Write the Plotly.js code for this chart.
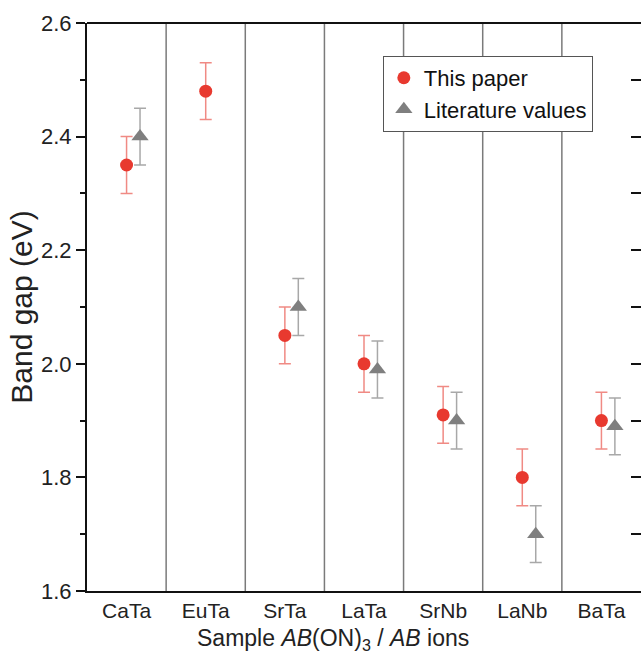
<!DOCTYPE html>
<html>
<head>
<meta charset="utf-8">
<script src="https://cdn.plot.ly/plotly-3.0.1.min.js"></script>
<style>html,body{margin:0;padding:0;background:#fff;}#chart{width:641px;height:655px;}</style>
</head>
<body>
<div id="chart"></div>
<script>
const categories = ["CaTa", "EuTa", "SrTa", "LaTa", "SrNb", "LaNb", "BaTa"];
const paperValues = [2.35, 2.48, 2.05, 2.00, 1.91, 1.80, 1.90];
const paperErrors = [0.05, 0.05, 0.05, 0.05, 0.05, 0.05, 0.05];
const litCategories = ["CaTa", "SrTa", "LaTa", "SrNb", "LaNb", "BaTa"];
const litValues = [2.40, 2.10, 1.99, 1.90, 1.70, 1.89];
const litErrors = [0.05, 0.05, 0.05, 0.05, 0.05, 0.05];
const yTickVals = [1.6, 1.8, 2.0, 2.2, 2.4, 2.6];
const yTickText = ['1.6', '1.8', '2.0', '2.2', '2.4', '2.6'];
const yMinorVals = [1.7, 1.9, 2.1, 2.3, 2.5];
const xTitle = 'Sample <i>AB</i>(ON)<sub>3</sub> / <i>AB</i> ions';
const yTitle = 'Band gap (eV)';

const idx = c => categories.indexOf(c);
const litOffset = 0.17;

const traces = [
  {
    type: 'scatter', mode: 'markers', name: 'This paper',
    x: categories.map(idx), y: paperValues,
    error_y: {type: 'data', array: paperErrors, visible: true, color: '#f08a84', thickness: 1.5, width: 6},
    marker: {symbol: 'circle', size: 13, color: '#e8392f'}
  },
  {
    type: 'scatter', mode: 'markers', name: 'Literature values',
    x: litCategories.map(c => idx(c) + litOffset), y: litValues,
    error_y: {type: 'data', array: litErrors, visible: true, color: '#a8a8a8', thickness: 1.5, width: 6},
    marker: {symbol: 'triangle-up', size: 15, color: '#7f7f7f'}
  },
  {type: 'scatter', x: [0], y: [2], yaxis: 'y2', mode: 'markers', marker: {opacity: 0}, showlegend: false, hoverinfo: 'skip'}
];

const shapes = [];
for (let i = 0; i < categories.length - 1; i++) {
  shapes.push({type: 'line', xref: 'x', yref: 'paper', x0: i + 0.5, x1: i + 0.5, y0: 0, y1: 1,
    line: {color: '#7a7a7a', width: 1.5}, layer: 'below'});
}
shapes.push({type: 'line', xref: 'paper', yref: 'paper', x0: 0, x1: 1, y0: 1, y1: 1, line: {color: '#111', width: 2}});

const layout = {
  width: 641, height: 655,
  margin: {l: 87, r: 0, t: 23, b: 64},
  paper_bgcolor: '#fff', plot_bgcolor: '#fff',
  font: {family: 'Liberation Sans, Arial, sans-serif', color: '#222'},
  showlegend: true,
  legend: {x: 0.534, y: 0.942, xanchor: 'left', yanchor: 'top', bgcolor: '#fff',
    bordercolor: '#555', borderwidth: 1, font: {size: 22, color: '#111'}, itemwidth: 30, tracegroupgap: 0},
  xaxis: {
    range: [-0.5, 6.5], tickvals: categories.map(idx), ticktext: categories,
    showgrid: false, zeroline: false, showline: true, linecolor: '#111', linewidth: 2,
    ticks: '', tickfont: {size: 21, color: '#222'}
  },
  yaxis: {
    range: [1.6, 2.6], tickvals: yTickVals, ticktext: yTickText,
    showgrid: false, zeroline: false, showline: true, linecolor: '#111', linewidth: 2,
    ticks: 'outside', ticklen: 9, tickwidth: 2, tickcolor: '#111',
    minor: {tickvals: yMinorVals, ticks: 'outside', ticklen: 5, tickwidth: 2, tickcolor: '#111'},
    tickfont: {size: 22, color: '#222'},
    title: {text: yTitle, font: {size: 30, color: '#222'}, standoff: 0}
  },
  yaxis2: {
    overlaying: 'y', side: 'right', range: [1.6, 2.6], dtick: 0.1, tick0: 1.6,
    showgrid: false, zeroline: false, showline: true, linecolor: '#111', linewidth: 2,
    ticks: 'inside', ticklen: 10, tickwidth: 2, tickcolor: '#111', showticklabels: false
  },
  annotations: [
    {text: xTitle, xref: 'paper', yref: 'paper', x: 0.444, y: -0.086, xanchor: 'center', yanchor: 'middle',
     showarrow: false, font: {size: 23, color: '#222'}}
  ],
  shapes: shapes
};

Plotly.newPlot('chart', traces, layout, {displayModeBar: false, staticPlot: true});
</script>
</body>
</html>
